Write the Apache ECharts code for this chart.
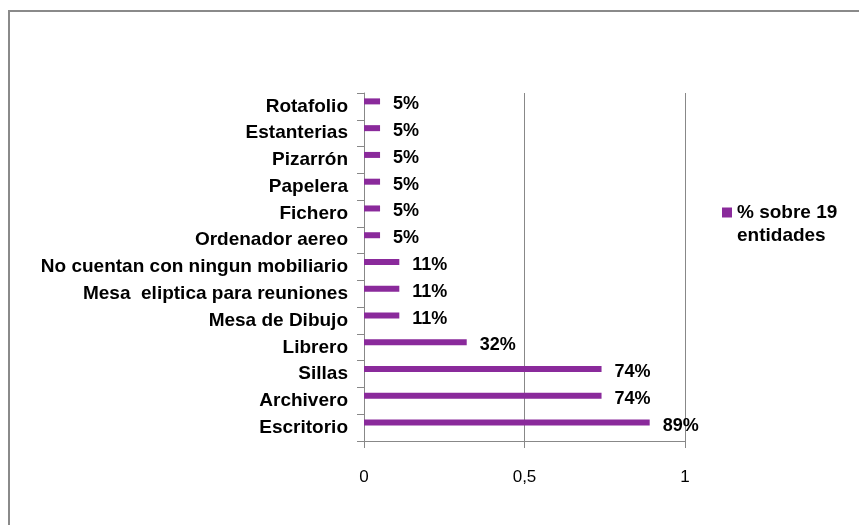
<!DOCTYPE html>
<html lang="es">
<head>
    <meta charset="UTF-8">
    <title>Mobiliario</title>
    <script src="https://cdn.jsdelivr.net/npm/echarts@6/dist/echarts.min.js"></script>
    <style>
        html, body { margin: 0; padding: 0; background: #fff; }
        #chart { width: 859px; height: 525px; }
    </style>
</head>
<body>
<div id="chart"></div>
<script>
    // categorias de abajo hacia arriba
    const categorias = ['Escritorio', 'Archivero', 'Sillas', 'Librero', 'Mesa de Dibujo',
        'Mesa  eliptica para reuniones', 'No cuentan con ningun mobiliario', 'Ordenador aereo',
        'Fichero', 'Papelera', 'Pizarrón', 'Estanterias', 'Rotafolio'];
    const valores = [0.89, 0.74, 0.74, 0.32, 0.11, 0.11, 0.11, 0.05, 0.05, 0.05, 0.05, 0.05, 0.05];
    const ticksX = [0, 0.5, 1];
    const serieNombre = '% sobre 19';
    const serieNombre2 = 'entidades';

    const purpura = '#8a2a9b';
    const font = '"Liberation Sans", Arial, sans-serif';

    // barra fina, algo por encima del centro de la categoria (como en Excel)
    function renderBarra(params, api) {
        const idx = api.value(1);
        const ini = api.coord([0, idx]);
        const fin = api.coord([api.value(0), idx]);
        const y = ini[1] - 5;
        return {
            type: 'group',
            children: [{
                type: 'rect',
                shape: {x: ini[0], y: y - 3, width: fin[0] - ini[0], height: 6},
                style: {fill: purpura}
            }, {
                type: 'text',
                style: {
                    text: Math.round(api.value(0) * 100) + '%',
                    x: fin[0] + 13, y: y + 3,
                    verticalAlign: 'middle',
                    font: 'bold 18px ' + font,
                    fill: '#000'
                }
            }]
        };
    }

    const chart = echarts.init(document.getElementById('chart'));
    chart.setOption({
        animation: false,
        textStyle: {fontFamily: font},
        graphic: [{
            type: 'rect',
            shape: {x: 9, y: 11, width: 900, height: 600},
            style: {fill: 'none', stroke: '#8a8a8a', lineWidth: 2}
        }, {
            type: 'text',
            left: 737, top: 226,
            style: {text: serieNombre2, font: 'bold 19px ' + font, fill: '#000'}
        }],
        legend: {
            left: 717, top: 198,
            itemWidth: 10, itemHeight: 10,
            icon: 'rect',
            textStyle: {fontSize: 19, fontWeight: 'bold', color: '#000', fontFamily: font},
            data: [serieNombre]
        },
        grid: {left: 364, top: 93, width: 321, height: 348, containLabel: false},
        xAxis: {
            type: 'value',
            min: ticksX[0], max: ticksX[ticksX.length - 1], interval: 0.5,
            axisLine: {show: true, lineStyle: {color: '#888', width: 1}},
            axisTick: {show: true, length: 7, lineStyle: {color: '#888'}},
            splitLine: {show: true, lineStyle: {color: '#888', width: 1}},
            axisLabel: {
                margin: 28, fontSize: 17, color: '#000', fontFamily: font,
                formatter: v => String(v).replace('.', ',')
            }
        },
        yAxis: {
            type: 'category',
            data: categorias,
            axisLine: {show: true, lineStyle: {color: '#888', width: 1}},
            axisTick: {show: true, length: 7, lineStyle: {color: '#888'}},
            axisLabel: {margin: 16, fontSize: 19, fontWeight: 'bold', color: '#000', fontFamily: font}
        },
        series: [{
            name: serieNombre,
            type: 'custom',
            itemStyle: {color: purpura},
            encode: {x: 0, y: 1},
            data: valores.map((v, i) => [v, i]),
            renderItem: renderBarra
        }]
    });
</script>
</body>
</html>
